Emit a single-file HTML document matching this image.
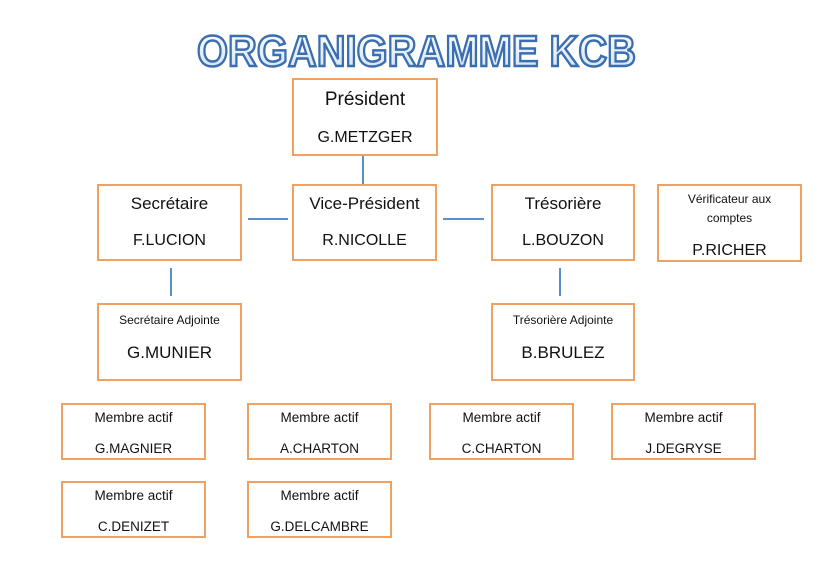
<!DOCTYPE html>
<html><head><meta charset="utf-8"><style>
body{margin:0;background:#fff;width:824px;height:582px;position:relative;overflow:hidden;font-family:"Liberation Sans",sans-serif;color:#111}
.b{position:absolute;border:2px solid #f0a060;box-sizing:border-box;text-align:center;background:#fff}
.b div{position:absolute;left:0;right:0;white-space:nowrap}
.l{position:absolute;background:#5b8fc7}
</style></head><body>
<svg style="position:absolute;left:0;top:0" width="824" height="80">
<defs><linearGradient id="g" x1="0" y1="0" x2="0" y2="1"><stop offset="0" stop-color="#ffffff"/><stop offset="1" stop-color="#cfe0f3"/></linearGradient></defs>
<text x="197" y="66" textLength="439" lengthAdjust="spacingAndGlyphs" font-family="Liberation Sans" font-weight="bold" font-size="44" fill="url(#g)" stroke="#3a6eb0" stroke-width="2.5">ORGANIGRAMME KCB</text>
</svg>
<div class="l" style="left:362px;top:155px;width:1.5px;height:29px"></div>
<div class="l" style="left:248px;top:218px;width:40px;height:1.5px"></div>
<div class="l" style="left:443px;top:218px;width:41px;height:1.5px"></div>
<div class="l" style="left:170px;top:268px;width:1.5px;height:28px"></div>
<div class="l" style="left:559px;top:268px;width:1.5px;height:28px"></div>

<div class="b" style="left:292px;top:78px;width:146px;height:78px"><div style="top:9px;font-size:19px">Président</div><div style="top:49px;font-size:16px">G.METZGER</div></div>
<div class="b" style="left:97px;top:184px;width:145px;height:77px"><div style="top:8px;font-size:17px">Secrétaire</div><div style="top:46px;font-size:16px">F.LUCION</div></div>
<div class="b" style="left:292px;top:184px;width:145px;height:77px"><div style="top:8px;font-size:17px">Vice-Président</div><div style="top:46px;font-size:16px">R.NICOLLE</div></div>
<div class="b" style="left:491px;top:184px;width:144px;height:77px"><div style="top:8px;font-size:17px">Trésorière</div><div style="top:46px;font-size:16px">L.BOUZON</div></div>
<div class="b" style="left:657px;top:184px;width:145px;height:78px"><div style="top:6px;font-size:12px">Vérificateur aux</div><div style="top:25px;font-size:12px">comptes</div><div style="top:56px;font-size:16px">P.RICHER</div></div>
<div class="b" style="left:97px;top:303px;width:145px;height:78px"><div style="top:8px;font-size:12px">Secrétaire Adjointe</div><div style="top:38px;font-size:17px">G.MUNIER</div></div>
<div class="b" style="left:491px;top:303px;width:144px;height:78px"><div style="top:8px;font-size:12px">Trésorière Adjointe</div><div style="top:38px;font-size:17px">B.BRULEZ</div></div>

<div class="b" style="left:61px;top:403px;width:145px;height:57px"><div style="top:5px;font-size:13.5px">Membre actif</div><div style="top:36px;font-size:13.5px">G.MAGNIER</div></div>
<div class="b" style="left:247px;top:403px;width:145px;height:57px"><div style="top:5px;font-size:13.5px">Membre actif</div><div style="top:36px;font-size:13.5px">A.CHARTON</div></div>
<div class="b" style="left:429px;top:403px;width:145px;height:57px"><div style="top:5px;font-size:13.5px">Membre actif</div><div style="top:36px;font-size:13.5px">C.CHARTON</div></div>
<div class="b" style="left:611px;top:403px;width:145px;height:57px"><div style="top:5px;font-size:13.5px">Membre actif</div><div style="top:36px;font-size:13.5px">J.DEGRYSE</div></div>
<div class="b" style="left:61px;top:481px;width:145px;height:57px"><div style="top:5px;font-size:13.5px">Membre actif</div><div style="top:36px;font-size:13.5px">C.DENIZET</div></div>
<div class="b" style="left:247px;top:481px;width:145px;height:57px"><div style="top:5px;font-size:13.5px">Membre actif</div><div style="top:36px;font-size:13.5px">G.DELCAMBRE</div></div>
</body></html>
